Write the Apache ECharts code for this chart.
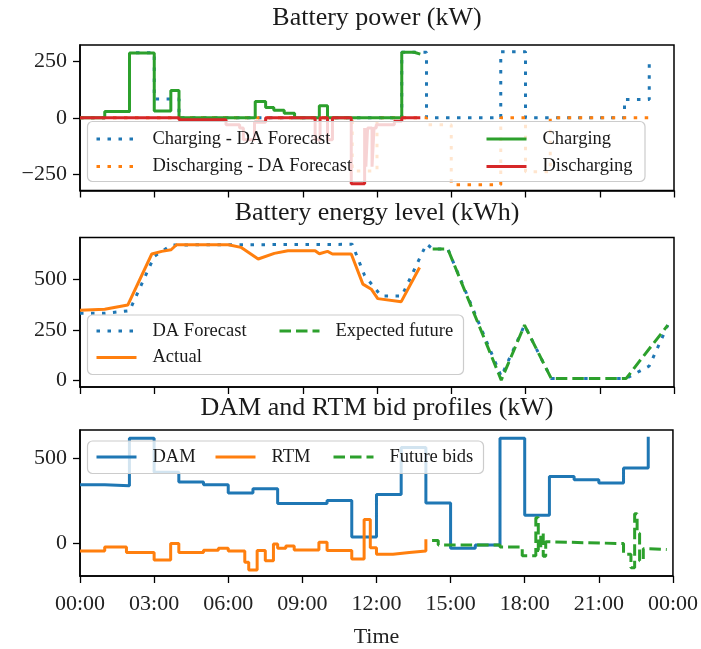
<!DOCTYPE html>
<html>
<head>
<meta charset="utf-8">
<script src="https://cdn.jsdelivr.net/npm/echarts@6/dist/echarts.min.js"></script>
<style>
  html, body { margin: 0; padding: 0; background: #ffffff; }
  #chart { width: 701px; height: 649px; }
</style>
</head>
<body>
<div id="chart"></div>
<script>
// ---- Battery power (kW); step series: each value holds from its hour to the next ----
const chgFcstHours = [0, 1, 2, 3, 4, 13, 14, 17, 18, 22, 23];
const chgFcstKW    = [0, 28, 286, 82, 0, 288, 0, 290, 0, 80, 260];

const disFcstHours = [0, 11, 12, 14, 15, 17, 18, 19, 23];
const disFcstKW    = [0, -234, 0, -31, -295, 0, -237, 0, 0];

const chgHours = [0, 1, 2, 3, 3.67, 4, 7.08, 7.5, 7.83, 8.25, 8.67, 9.67, 10, 13, 13.5, 13.75];
const chgKW    = [0, 28, 285, 30, 120, 0, 72, 45, 33, 20, 0, 53, 0, 288, 280, 280];

const disHours = [0, 4, 5.9, 6.45, 6.6, 7.05, 7.5, 9.5, 9.7, 10, 10.2, 10.96, 11.5, 11.55, 11.62, 11.8, 11.88, 11.97, 12.7, 13, 13.75];
const disKW    = [0, -9, -31, -45, -97, -20, 0, -97, 0, -97, 0, -290, -45, -215, -45, -215, -45, -31, -15, 0, 0];

// ---- Battery energy level (kWh) ----
const fcstEHours = [0, 1, 2, 3, 3.7, 11, 11.5, 12.17, 13, 14, 14.25, 14.86, 17.02, 17.96, 19.04, 22.07, 23, 23.75];
const fcstKWh    = [332, 332, 345, 615, 672, 675, 520, 418, 418, 677, 652, 652, 18, 273, 8, 8, 70, 273];

const actHours = [0, 1, 1.93, 2.9, 3.3, 3.68, 3.9, 6.0, 6.5, 7.2, 7.85, 8.4, 9.5, 9.67, 10.0, 10.2, 10.96, 11.43, 11.77, 12.03, 12.98, 13.72];
const actKWh   = [347, 352, 373, 627, 640, 648, 673, 673, 660, 602, 630, 643, 643, 628, 640, 627, 627, 477, 452, 405, 390, 560];

const futEHours = [14.25, 14.86, 17.02, 17.96, 19.04, 22.07, 22.6, 23.75];
const futKWh    = [652, 652, 0, 273, 8, 8, 93, 273];

// ---- DAM and RTM bid profiles (kW) ----
const damHours = [0, 1, 2, 3, 4, 5, 6, 7, 8, 9, 10, 11, 12, 13, 14, 15, 16, 17, 18, 19, 20, 21, 22, 23];
const damKW    = [345, 339, 616, 418, 360, 345, 296, 321, 234, 234, 252, 38, 287, 562, 238, -27, -8, 616, 166, 393, 374, 355, 442, 626];

const rtmHours = [0, 1, 1.88, 3, 3.67, 4, 5, 5.6, 6, 6.67, 6.83, 7.17, 7.5, 7.83, 8.0, 8.33, 8.67, 9.67, 10, 11, 11.5, 11.75, 12, 12.67, 13.33, 14];
const rtmKW    = [-43, -20, -52, -97, 0, -52, -39, -27, -43, -110, -155, -40, -101, -2, -28, -15, -38, 8, -40, -91, 141, -25, -62, -52, -43, 25];

const bidHours = [14.25, 14.5, 17, 17.9, 18.45, 18.55, 18.65, 18.75, 18.85, 19, 22, 22.3, 22.45, 22.55, 22.65, 22.8, 22.9, 23.75];
const bidKW    = [18, -8, -20, -72, 151, -40, 60, -75, 10, 0, -62, -142, 174, 60, -100, -30, -35, -35];

// ---- axis ticks ----
const hourTicks = [0, 3, 6, 9, 12, 15, 18, 21, 24];
const powerTicks = [-250, 0, 250];
const energyTicks = [0, 250, 500];
const bidTicks = [0, 500];

const C = { blue: '#1f77b4', orange: '#ff7f0e', green: '#2ca02c', red: '#d62728' };
const FONT = '"Liberation Serif", "Times New Roman", serif';
const DOT = [3.5, 7.5];
const DASH = [11.5, 5];

const zip = (xs, ys) => xs.map((x, i) => [x, ys[i]]);
const pad2 = n => String(n).padStart(2, '0');

const grids = [
  { left: 80, width: 594, top: 45, height: 145.5 },
  { left: 80, width: 594, top: 237.5, height: 149.5 },
  { left: 80, width: 594, top: 430, height: 147 }
].map(g => Object.assign(g, { show: true, borderColor: '#000', borderWidth: 1.5, backgroundColor: 'transparent', containLabel: false }));

function xAxisFor(i, showLabels) {
  return {
    type: 'value', gridIndex: i, min: 0, max: 24, interval: 3,
    axisLine: { show: true, onZero: false, lineStyle: { color: '#000', width: 1.5 } },
    axisTick: { show: true, inside: false, length: 7, lineStyle: { color: '#000', width: 1.3 }, customValues: hourTicks },
    axisLabel: {
      show: showLabels, margin: 17, color: '#222', fontFamily: FONT, fontSize: 22,
      customValues: hourTicks,
      formatter: v => pad2(Math.round(v) % 24) + ':00'
    },
    splitLine: { show: false },
    name: showLabels ? 'Time' : '',
    nameLocation: 'middle', nameGap: 50,
    nameTextStyle: { color: '#222', fontFamily: FONT, fontSize: 22 }
  };
}

function yAxisFor(i, min, max, ticks) {
  return {
    type: 'value', gridIndex: i, min: min, max: max,
    axisLine: { show: true, onZero: false, lineStyle: { color: '#000', width: 1.5 } },
    axisTick: { show: true, inside: false, length: 7, lineStyle: { color: '#000', width: 1.3 }, customValues: ticks },
    axisLabel: {
      margin: 13, color: '#222', fontFamily: FONT, fontSize: 22,
      customValues: ticks,
      formatter: v => String(v).replace('-', '\u2212')
    },
    splitLine: { show: false }
  };
}

function lineSeries(name, axis, data, color, dash, step) {
  return {
    name: name, type: 'line', xAxisIndex: axis, yAxisIndex: axis,
    data: data, step: step ? 'end' : false,
    showSymbol: false, symbol: 'none', animation: false, silent: true,
    lineStyle: { color: color, width: 3, type: dash || 'solid', cap: 'butt' },
    itemStyle: { color: color }
  };
}

const legendText = { color: '#1a1a1a', fontFamily: FONT, fontSize: 18.5, lineHeight: 20, padding: [0, 0, 0, 11] };
function legendAt(left, top, names, gap) {
  return {
    left: left, top: top, orient: 'vertical', padding: 0, itemGap: gap || 7,
    itemWidth: 40, itemHeight: 14, data: names, textStyle: legendText,
    itemStyle: { opacity: 0 },
    lineStyle: { width: 3 },
    selectedMode: false, z: 10
  };
}

function frame(x, y, w, h) {
  return {
    type: 'rect', z: 5, silent: true,
    shape: { x: x, y: y, width: w, height: h, r: 5 },
    style: { fill: 'rgba(255,255,255,0.8)', stroke: '#cccccc', lineWidth: 1.2 }
  };
}

function titleAt(text, top) {
  return {
    text: text, left: 377, top: top, textAlign: 'center', padding: 0,
    textStyle: { color: '#1a1a1a', fontFamily: FONT, fontSize: 26, fontWeight: 'normal', lineHeight: 26 }
  };
}

const option = {
  backgroundColor: '#ffffff',
  animation: false,
  title: [
    titleAt('Battery power (kW)', 5),
    titleAt('Battery energy level (kWh)', 200),
    titleAt('DAM and RTM bid profiles (kW)', 395)
  ],
  grid: grids,
  xAxis: [xAxisFor(0, false), xAxisFor(1, false), xAxisFor(2, true)],
  yAxis: [
    yAxisFor(0, -320, 320, powerTicks),
    yAxisFor(1, -34.5, 709, energyTicks),
    yAxisFor(2, -190, 665, bidTicks)
  ],
  legend: [
    legendAt(95, 129, ['Charging - DA Forecast', 'Discharging - DA Forecast'], 7.5),
    legendAt(485, 129, ['Charging', 'Discharging'], 7.5),
    legendAt(95, 321, ['DA Forecast', 'Actual'], 6.6),
    legendAt(278, 321, ['Expected future']),
    legendAt(95, 447, ['DAM']),
    legendAt(214, 447, ['RTM']),
    legendAt(332, 447, ['Future bids'])
  ],
  graphic: [
    frame(87.5, 121.5, 557.5, 60),
    frame(87.5, 315, 376, 59.5),
    frame(87.5, 441, 396, 32.5)
  ],
  series: [
    lineSeries('Charging - DA Forecast', 0, zip(chgFcstHours, chgFcstKW), C.blue, DOT, true),
    lineSeries('Discharging - DA Forecast', 0, zip(disFcstHours, disFcstKW), C.orange, DOT, true),
    lineSeries('Charging', 0, zip(chgHours, chgKW), C.green, null, true),
    lineSeries('Discharging', 0, zip(disHours, disKW), C.red, null, true),

    lineSeries('DA Forecast', 1, zip(fcstEHours, fcstKWh), C.blue, DOT, false),
    lineSeries('Actual', 1, zip(actHours, actKWh), C.orange, null, false),
    lineSeries('Expected future', 1, zip(futEHours, futKWh), C.green, DASH, false),

    lineSeries('DAM', 2, zip(damHours, damKW), C.blue, null, true),
    lineSeries('RTM', 2, zip(rtmHours, rtmKW), C.orange, null, true),
    lineSeries('Future bids', 2, zip(bidHours, bidKW), C.green, DASH, true)
  ]
};

const chart = echarts.init(document.getElementById('chart'), null, { renderer: 'canvas' });
chart.setOption(option);
</script>
</body>
</html>
